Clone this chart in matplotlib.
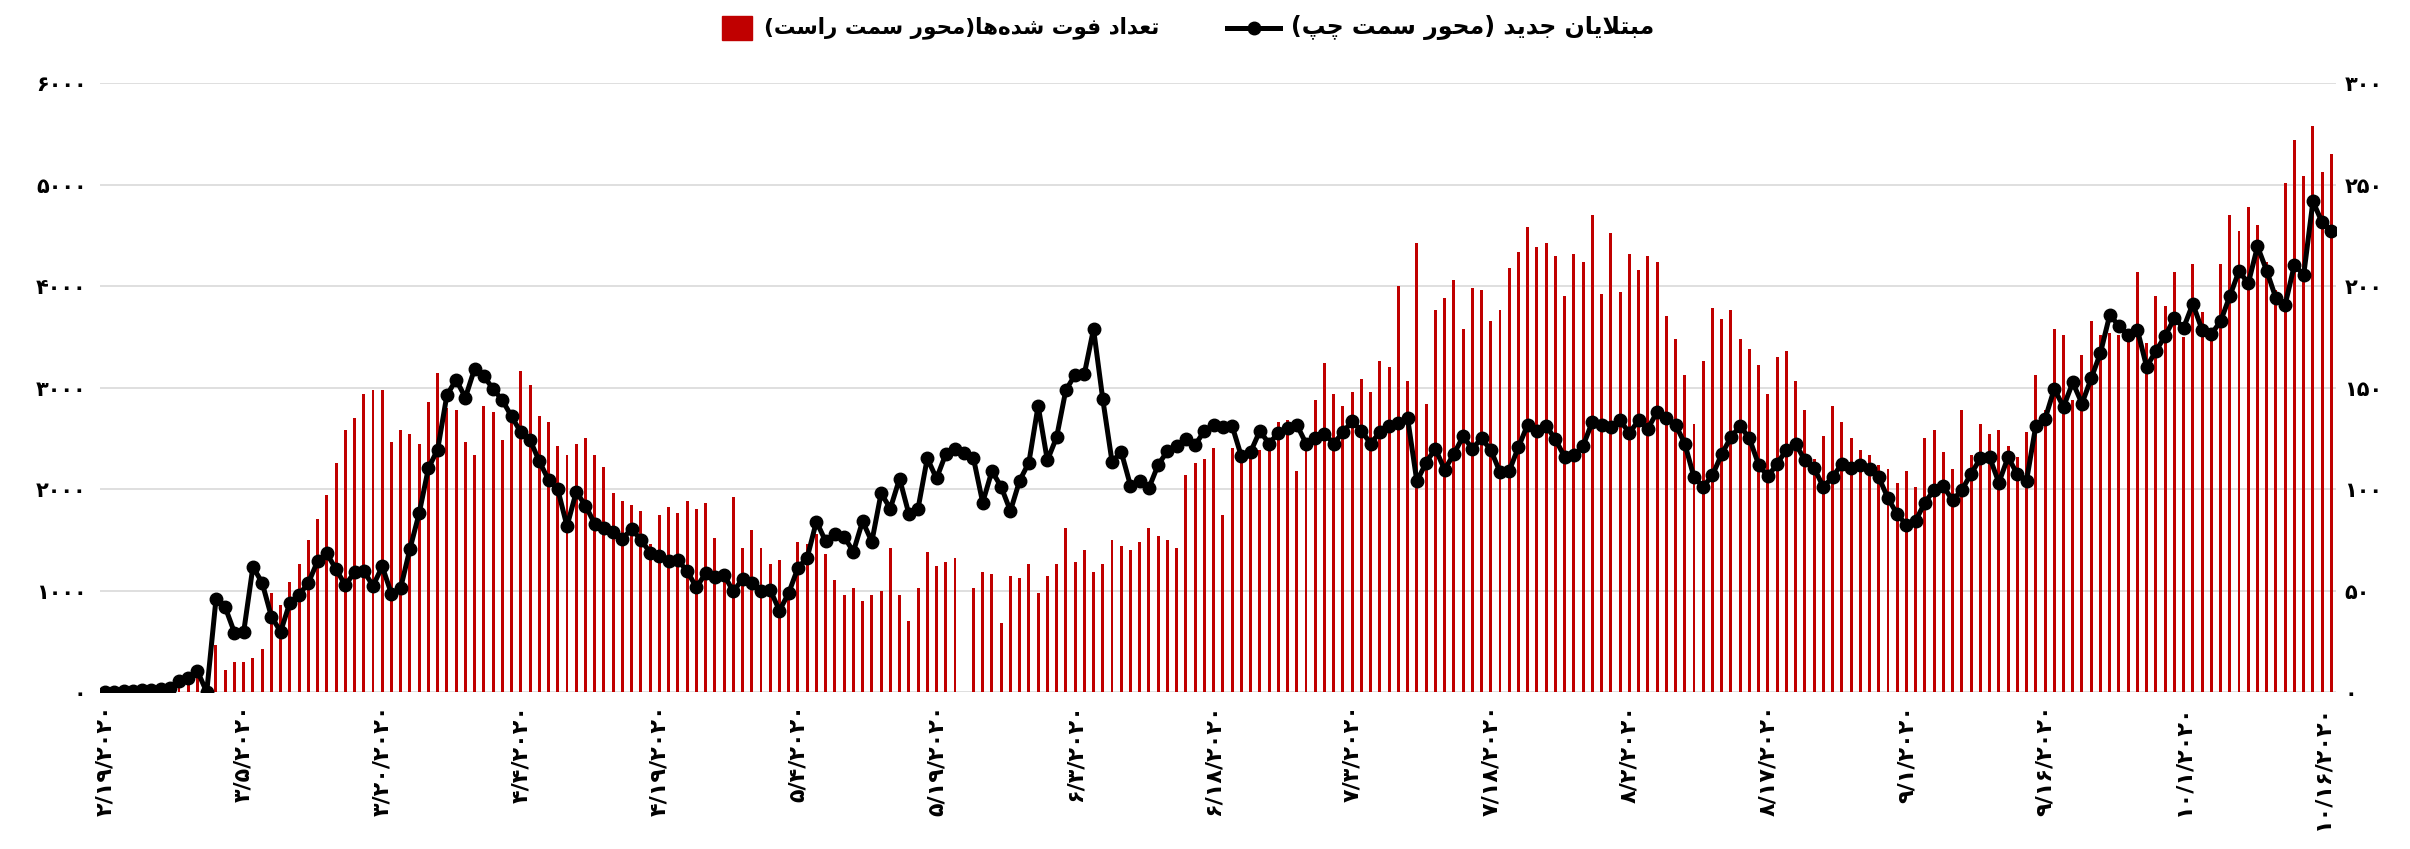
import matplotlib
matplotlib.use('Agg')
import matplotlib.pyplot as plt
import pandas as pd
from matplotlib import font_manager
from matplotlib.ft2font import FT2Font
from matplotlib.lines import Line2D
from matplotlib.patches import Rectangle

# داده‌ها: از ۲/۱۹/۲۰۲۰ روزانه
start_date = '2020-02-19'
new_cases = [
    2, 3, 13, 10, 15, 18, 34, 44, 106, 143, 205, 0, 913, 835, 586, 591, 1234, 1076, 743, 595, 881, 958,
    1075, 1289, 1365, 1209, 1053, 1178, 1192, 1046, 1237, 966, 1028, 1411, 1762, 2206, 2389, 2926, 3076, 2901, 3186, 3110, 2987, 2875,
    2715, 2560, 2483, 2274, 2089, 1997, 1634, 1972, 1837, 1657, 1617, 1574, 1512, 1606, 1499, 1374, 1343, 1294, 1297, 1194, 1030,
    1168, 1134, 1153, 991, 1112, 1073, 993, 1006, 802, 976, 1223, 1323, 1680, 1485, 1556, 1529, 1383, 1683, 1481, 1958, 1808, 2102, 1757, 1806,
    2303, 2104, 2344, 2398, 2350, 2303, 1867, 2178, 2021, 1784, 2083, 2261, 2821, 2282, 2510, 2975, 3124, 3132, 3576, 2884, 2270,
    2365, 2033, 2075, 2012, 2240, 2373, 2427, 2489, 2435, 2572, 2635, 2614, 2622, 2323, 2365, 2572, 2448, 2552, 2606, 2635, 2448, 2498,
    2545, 2448, 2560, 2668, 2572, 2448, 2560, 2622, 2647, 2697, 2075, 2261, 2398, 2191, 2344, 2518, 2398, 2498, 2386, 2166, 2178, 2415,
    2635, 2572, 2622, 2489, 2315, 2332, 2427, 2664, 2635, 2614, 2676, 2552, 2676, 2593, 2759, 2697, 2635, 2448, 2116, 2021, 2137, 2344,
    2510, 2622, 2498, 2240, 2124, 2249, 2386, 2448, 2282, 2207, 2021, 2116, 2249, 2207, 2240, 2199, 2116, 1909, 1751, 1647, 1689, 1867,
    1992, 2025, 1888, 1992, 2149, 2303, 2315, 2062, 2315, 2145, 2083, 2622, 2689, 2987, 2809, 3050, 2842, 3091, 3340, 3713, 3610, 3518,
    3568, 3203, 3361, 3506, 3684, 3589, 3825, 3568, 3527, 3651, 3900, 4149, 4025, 4390, 4149, 3879, 3817, 4211, 4108, 4834, 4626, 4543,
]
deaths = [
    1, 0, 1, 1, 2, 2, 2, 2, 3, 5, 7, 0,
    23, 11, 15, 15, 17, 21, 49, 43, 54, 63,
    75, 85, 97, 113, 129, 135, 147, 149, 149, 123, 129, 127, 122, 143, 157, 140, 139, 123, 117, 141, 138, 124,
    134, 158, 151, 136, 133, 121, 117, 122, 125, 117, 111, 98, 94, 92, 89, 73, 87, 91, 88, 94, 90,
    93, 76, 60, 96, 71, 80, 71, 63, 65, 47, 74, 73, 78, 68, 55, 48, 51, 45, 48, 50, 71, 48, 35, 51,
    69, 62, 64, 66, 0, 51, 59, 58, 34, 57, 56, 63, 49, 57, 63, 81, 64, 70, 59, 63, 75,
    72, 70, 74, 81, 77, 75, 71, 107, 113, 115, 120, 87, 120, 113, 116, 119, 120, 133, 134, 109, 122, 144,
    162, 147, 141, 148, 154, 148, 163, 160, 200, 153, 221, 142, 188, 194, 203, 179, 199, 198, 183, 188, 209, 217,
    229, 219, 221, 215, 195, 216, 212, 235, 196, 226, 197, 216, 208, 215, 212, 185, 174, 156, 132, 163, 189, 184, 188, 174,
    169, 161, 147, 165, 168, 153, 139, 115, 126, 141, 133, 125, 119, 117, 112, 110, 103, 109, 101, 125, 129, 118,
    110, 139, 117, 132, 127, 129, 121, 116, 128, 156, 139, 179, 176, 144, 166, 183, 176, 177, 176, 175, 207,
    172, 195, 190, 207, 175, 211, 187, 176, 211, 235, 227, 239, 230, 212, 198, 251, 272, 254, 279, 256, 265,
]
cases_ticks = [0, 1000, 2000, 3000, 4000, 5000, 6000]
deaths_ticks = [0, 50, 100, 150, 200, 250, 300]
label_cases = 'مبتلایان جدید (محور سمت چپ)'
label_deaths = 'تعداد فوت شده\u200cها(محور سمت راست)'

# شکل حروف فارسی (matplotlib خودش حروف را به هم وصل نمی‌کند)
FORMS = {
    'ا': (0xFE8D, 0xFE8E, None, None),
    'ب': (0xFE8F, 0xFE90, 0xFE91, 0xFE92),
    'پ': (0xFB56, 0xFB57, 0xFB58, 0xFB59),
    'ت': (0xFE95, 0xFE96, 0xFE97, 0xFE98),
    'ج': (0xFE9D, 0xFE9E, 0xFE9F, 0xFEA0),
    'چ': (0xFB7A, 0xFB7B, 0xFB7C, 0xFB7D),
    'ح': (0xFEA1, 0xFEA2, 0xFEA3, 0xFEA4),
    'د': (0xFEA9, 0xFEAA, None, None),
    'ر': (0xFEAD, 0xFEAE, None, None),
    'س': (0xFEB1, 0xFEB2, 0xFEB3, 0xFEB4),
    'ش': (0xFEB5, 0xFEB6, 0xFEB7, 0xFEB8),
    'ع': (0xFEC9, 0xFECA, 0xFECB, 0xFECC),
    'ف': (0xFED1, 0xFED2, 0xFED3, 0xFED4),
    'ل': (0xFEDD, 0xFEDE, 0xFEDF, 0xFEE0),
    'م': (0xFEE1, 0xFEE2, 0xFEE3, 0xFEE4),
    'ن': (0xFEE5, 0xFEE6, 0xFEE7, 0xFEE8),
    'ه': (0xFEE9, 0xFEEA, 0xFEEB, 0xFEEC),
    'و': (0xFEED, 0xFEEE, None, None),
    'ی': (0xFEEF, 0xFEF0, 0xFEF3, 0xFEF4),
}


def shape(text):
    out = []
    k = 0
    while k < len(text):
        ch = text[k]
        prev = text[k - 1] if k > 0 else ''
        nxt = text[k + 1] if k + 1 < len(text) else ''
        joins_prev = prev in FORMS and FORMS[prev][2] is not None
        if ch == 'ل' and nxt == 'ا':
            out.append(chr(0xFEFC if joins_prev else 0xFEFB))
            k += 2
            continue
        if ch in FORMS:
            iso, fin, ini, med = FORMS[ch]
            joins_next = ini is not None and nxt in FORMS
            if joins_prev and joins_next:
                out.append(chr(med))
            elif joins_prev:
                out.append(chr(fin))
            elif joins_next:
                out.append(chr(ini))
            else:
                out.append(chr(iso))
        elif ch != '\u200c':
            out.append({'(': ')', ')': '('}.get(ch, ch))
        k += 1
    return ''.join(reversed(out))


def fa_digits(s):
    return str(s).translate(str.maketrans('0123456789', '۰۱۲۳۴۵۶۷۸۹'))


def font_weight(chars):
    # اگر نسخه‌ی bold حروف عربی را نداشت، از معمولی استفاده کن
    path = font_manager.findfont(font_manager.FontProperties(family='DejaVu Sans', weight='bold'))
    cmap = FT2Font(path).get_charmap()
    return 'bold' if all(ord(c) in cmap for c in chars if c != ' ') else 'normal'


plt.rcParams['font.family'] = ['DejaVu Sans']

dates = pd.date_range(start_date, periods=len(new_cases), freq='D')
x = list(range(len(new_cases)))

fig = plt.figure(figsize=(24.1, 8.49), dpi=100)
ax2 = fig.add_axes([0.0417, 0.1849, 0.9276, 0.7173])   # محور راست (فوتی)
ax = ax2.twinx()                                        # محور چپ (مبتلا)
ax.set_zorder(ax2.get_zorder() + 1)
ax.patch.set_visible(False)

ax2.bar(x, deaths, width=0.32, color='#C00000', zorder=2)
ax.plot(x, new_cases, color='black', linewidth=3.6, marker='o', markersize=9, zorder=3)

ax.set_ylim(0, 6000)
ax2.set_ylim(0, 300)
ax2.set_xlim(-0.5, len(new_cases) - 0.5)

ax2.set_axisbelow(True)
ax2.grid(axis='y', color='#D9D9D9', linewidth=1.2, zorder=0)
ax2.set_yticks(deaths_ticks)
ax.set_yticks(cases_ticks)

tick_w = font_weight(''.join(fa_digits(t) for t in cases_ticks) + '/')
ax.set_yticklabels([fa_digits(t) for t in cases_ticks], fontsize=15, fontweight=tick_w)
ax2.set_yticklabels([fa_digits(t) for t in deaths_ticks], fontsize=15, fontweight=tick_w)
ax.yaxis.set_ticks_position('left')
ax2.yaxis.set_ticks_position('right')

ax2.set_xticks(x[::15])
ax2.set_xticklabels([fa_digits(f'{d.month}/{d.day}/{d.year}') for d in dates[::15]],
                    rotation=90, fontsize=16, fontweight=tick_w)

for a in (ax, ax2):
    for s in a.spines.values():
        s.set_visible(False)
    a.tick_params(length=0)
ax.tick_params(axis='y', pad=10)
ax2.tick_params(axis='y', pad=6)
ax2.tick_params(axis='x', pad=9)

# راهنما
leg_w = font_weight(shape(label_cases) + shape(label_deaths))
fig.patches.append(Rectangle((722 / 2410, 1 - 40 / 849), 30 / 2410, 24 / 849,
                             transform=fig.transFigure, color='#C00000'))
fig.text(764 / 2410, 1 - 28 / 849, shape(label_deaths), fontsize=15.5, fontweight=leg_w,
         ha='left', va='center')
fig.lines.append(Line2D([1227 / 2410, 1280 / 2410], [1 - 28 / 849, 1 - 28 / 849],
                        transform=fig.transFigure, color='black', linewidth=3.6))
fig.lines.append(Line2D([1253.5 / 2410], [1 - 28 / 849], transform=fig.transFigure,
                        color='black', marker='o', markersize=9))
fig.text(1291 / 2410, 1 - 28 / 849, shape(label_cases), fontsize=17, fontweight=leg_w,
         ha='left', va='center')

fig.savefig('out.png', dpi=100)
